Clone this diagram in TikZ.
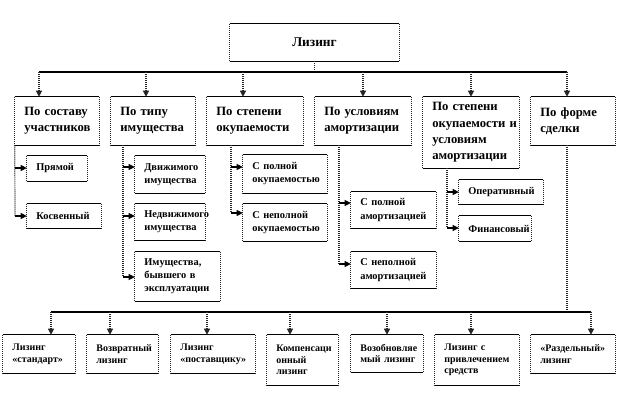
\documentclass[tikz,border=0pt]{standalone}
\usepackage{fontspec}
\setmainfont{Liberation Serif}
\usetikzlibrary{arrows.meta}
\tikzset{
  hl/.style={draw=black, line width=0.8pt},
  vl/.style={draw=black!85, line width=0.9pt, dash pattern=on 0.75pt off 0.75pt},
  tip/.style={-{Triangle[length=4.5pt,width=4.5pt]}},
  box/.style={rectangle, inner xsep=7pt, inner ysep=0pt, align=left},
  ltop/.style={box, align=center, font=\fontsize{10}{12.5}\selectfont\bfseries},
  lone/.style={box, font=\fontsize{9.5}{12.3}\selectfont\bfseries},
  ltwo/.style={box, font=\fontsize{7.8}{9.8}\selectfont\bfseries},
  lthree/.style={box, font=\fontsize{7.5}{8.8}\selectfont\bfseries},
}
\newcommand\bx[7]{%
  \pgfmathsetmacro\bxw{(#5-#3)*0.75}%
  \pgfmathsetmacro\bxh{(#6-#4)*0.75}%
  \pgfmathsetmacro\bxt{\bxw-14}%
  \node[#1, minimum width=\bxw pt, minimum height=\bxh pt, text width=\bxt pt] (#2) at ({(#3+#5)/2},{(#4+#6)/2}) {#7};
  \draw[hl] (#2.north west) -- (#2.north east) (#2.south west) -- (#2.south east);
  \draw[vl] (#2.north west) -- (#2.south west) (#2.north east) -- (#2.south east);
}
\begin{document}
\begin{tikzpicture}[x=0.75pt,y=-0.75pt]
\useasboundingbox (0,0) rectangle (618,420);
% top
\bx{ltop}{T}{230}{24}{399}{61}{Лизинг}
% level 1
\bx{lone}{L1}{15}{97}{99}{145}{По~составу\\участников}
\bx{lone}{L2}{111}{97}{195}{145}{По~типу\\имущества}
\bx{lone}{L3}{207}{97}{303}{145}{По~степени\\окупаемости}
\bx{lone}{L4}{315}{97}{411}{145}{По~условиям\\амортизации}
\bx{lone}{L5}{423}{97}{519}{168}{По~степени\\окупаемости~и\\условиям\\амортизации}
\bx{lone}{L6}{531}{97}{615}{145}{По~форме\\сделки}
% level 2
\bx{ltwo}{c11}{27}{156}{87}{181}{Прямой}
\bx{ltwo}{c12}{27}{204}{101}{228}{Косвенный}
\bx{ltwo}{c21}{135}{156}{205}{193}{Движимого\\имущества}
\bx{ltwo}{c22}{135}{204}{205}{240}{Недвижимого\\имущества}
\bx{ltwo}{c23}{135}{252}{220}{301}{Имущества,\\бывшего~в\\эксплуатации}
\bx{ltwo}{c31}{243}{155}{327}{193}{С~полной\\окупаемостью}
\bx{ltwo}{c32}{243}{204}{327}{241}{С~неполной\\окупаемостью}
\bx{ltwo}{c41}{351}{192}{436}{228}{С~полной\\амортизацией}
\bx{ltwo}{c42}{351}{252}{436}{288}{С~неполной\\амортизацией}
\bx{ltwo}{c51}{459}{180}{543}{204}{Оперативный}
\bx{ltwo}{c52}{459}{216}{531}{241}{Финансовый}
% bottom row
\bx{lthree}{B1}{3}{335}{75}{373}{Лизинг\\«стандарт»}
\bx{lthree}{B2}{87}{335}{158}{373}{Возвратный\\лизинг}
\bx{lthree}{B3}{171}{335}{255}{373}{Лизинг\\«поставщику»}
\bx{lthree}{B4}{267}{335}{338}{385}{Компенсаци\\онный\\лизинг}
\bx{lthree}{B5}{351}{335}{423}{372}{Возобновляе\\мый~лизинг}
\bx{lthree}{B6}{435}{335}{519}{385}{Лизинг~с\\привлечением\\средств}
\bx{lthree}{B7}{531}{335}{615}{373}{«Раздельный»\\лизинг}
% top bus
\coordinate (d1) at (39,72);
\coordinate (d2) at (146,72);
\coordinate (d3) at (243,72);
\coordinate (d4) at (363,72);
\coordinate (d5) at (471,72);
\coordinate (d6) at (567,72);
\draw[vl] (T.south) -- (T.south |- d1);
\draw[hl] (d1) -- (d6);
\draw[vl,tip] (d1) -- (d1 |- L1.north);
\draw[vl,tip] (d2) -- (d2 |- L2.north);
\draw[vl,tip] (d3) -- (d3 |- L3.north);
\draw[vl,tip] (d4) -- (d4 |- L4.north);
\draw[vl,tip] (d5) -- (d5 |- L5.north);
\draw[vl,tip] (d6) -- (d6 |- L6.north);
% L1 children
\coordinate (s11) at (15,168);
\coordinate (s12) at (15,216);
\draw[vl] (L1.south west) -- (s12);
\draw[hl,tip] (s11) -- (s11 -| c11.west);
\draw[hl,tip] (s12) -- (s12 -| c12.west);
% L2 children
\coordinate (s21) at (123,167);
\coordinate (s22) at (123,216);
\coordinate (s23) at (123,277);
\draw[vl] (s21 |- L2.south) -- (s23);
\draw[hl,tip] (s21) -- (s21 -| c21.west);
\draw[hl,tip] (s22) -- (s22 -| c22.west);
\draw[hl,tip] (s23) -- (s23 -| c23.west);
% L3 children
\coordinate (s31) at (231,167);
\coordinate (s32) at (231,213);
\draw[vl] (s31 |- L3.south) -- (s32);
\draw[hl,tip] (s31) -- (s31 -| c31.west);
\draw[hl,tip] (s32) -- (s32 -| c32.west);
% L4 children
\coordinate (s41) at (339,203);
\coordinate (s42) at (339,264);
\draw[vl] (s41 |- L4.south) -- (s42);
\draw[hl,tip] (s41) -- (s41 -| c41.west);
\draw[hl,tip] (s42) -- (s42 -| c42.west);
% L5 children
\coordinate (s51) at (447,192);
\coordinate (s52) at (447,228);
\draw[vl] (s51 |- L5.south) -- (s52);
\draw[hl,tip] (s51) -- (s51 -| c51.west);
\draw[hl,tip] (s52) -- (s52 -| c52.west);
% L6 to bottom bus
\coordinate (e1) at (51,312);
\coordinate (e2) at (110,312);
\coordinate (e3) at (207,312);
\coordinate (e4) at (290,312);
\coordinate (e5) at (387,312);
\coordinate (e6) at (471,312);
\coordinate (e7) at (591,312);
\draw[vl] (d6 |- L6.south) -- (d6 |- e1);
\draw[hl] (e1) -- (e7);
\draw[vl,tip] (e1) -- (e1 |- B1.north);
\draw[vl,tip] (e2) -- (e2 |- B2.north);
\draw[vl,tip] (e3) -- (e3 |- B3.north);
\draw[vl,tip] (e4) -- (e4 |- B4.north);
\draw[vl,tip] (e5) -- (e5 |- B5.north);
\draw[vl,tip] (e6) -- (e6 |- B6.north);
\draw[vl,tip] (e7) -- (e7 |- B7.north);
\end{tikzpicture}
\end{document}
